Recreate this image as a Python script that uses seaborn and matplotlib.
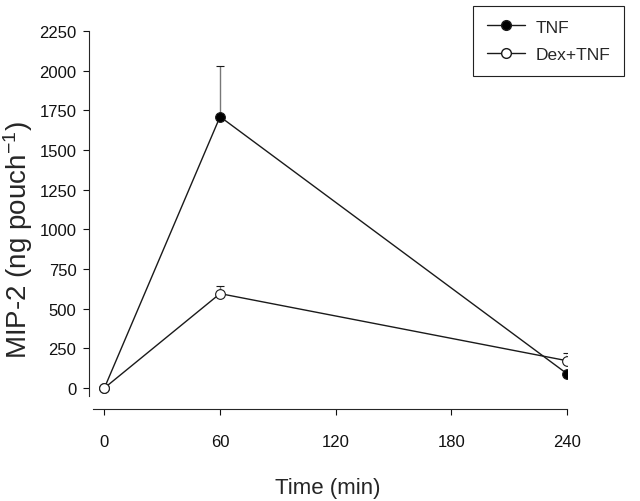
import pandas as pd
import numpy as np
import matplotlib
matplotlib.use("Agg")
import matplotlib.pyplot as plt
import seaborn as sns
from matplotlib.lines import Line2D

time_min = [0, 60, 240]
tnf = [0, 1710, 90]
tnf_err = [0, 320, 0]
dex_tnf = [0, 595, 172]
dex_tnf_err = [0, 50, 50]

x_ticks = [0, 60, 120, 180, 240]
y_ticks = [0, 250, 500, 750, 1000, 1250, 1500, 1750, 2000, 2250]

df = pd.DataFrame({
    "Time": time_min * 2,
    "MIP2": tnf + dex_tnf,
    "err": tnf_err + dex_tnf_err,
    "Group": ["TNF"] * 3 + ["Dex+TNF"] * 3,
})

sns.set_style("ticks")
plt.rcParams["font.family"] = ["Liberation Sans", "DejaVu Sans"]
plt.rcParams["mathtext.default"] = "regular"

fig = plt.figure(figsize=(6.4, 5.02), dpi=100)
ax = fig.add_axes([0.139, 0.1833, 0.747, 0.753])

# error bars, upper side only
for grp in ["TNF", "Dex+TNF"]:
    d = df[df["Group"] == grp]
    ax.errorbar(d["Time"], d["MIP2"], yerr=[np.zeros(len(d)), d["err"]],
                fmt="none", ecolor="#777777", elinewidth=1, capsize=3,
                capthick=1, zorder=1)

sns.lineplot(data=df, x="Time", y="MIP2", hue="Group", style="Group",
             palette={"TNF": "#1a1a1a", "Dex+TNF": "#1a1a1a"},
             markers={"TNF": "o", "Dex+TNF": "o"}, dashes=False,
             linewidth=1, markersize=7, ax=ax, legend=False, zorder=2)

lines = ax.get_lines()
for ln in lines:
    ln.set_markeredgecolor("#1a1a1a")
    ln.set_markeredgewidth(0.8)
lines[-2].set_markerfacecolor("black")
lines[-1].set_markerfacecolor("white")

ax.set_xlim(-8, 240)
ax.set_ylim(-132, 2250)
ax.set_xticks(x_ticks)
ax.set_yticks(y_ticks)
ax.tick_params(direction="out", length=4, width=0.8, labelsize=12, colors="#111111")
ax.tick_params(axis="x", pad=14)
ax.tick_params(axis="y", pad=5)

for s in ["top", "right"]:
    ax.spines[s].set_visible(False)
ax.spines["left"].set_bounds(-50, 2250)
ax.spines["bottom"].set_bounds(-6, 240)
ax.spines["left"].set_linewidth(0.8)
ax.spines["bottom"].set_linewidth(0.8)

ax.set_xlabel("Time (min)", fontsize=16)
ax.set_ylabel("MIP-2 (ng pouch$^{-1}$)", fontsize=20)
ax.xaxis.set_label_coords(0.5, -0.18)
ax.yaxis.set_label_coords(-0.112, 0.45)

handles = [
    Line2D([0], [0], color="#1a1a1a", lw=1, marker="o", markersize=7,
           markerfacecolor="black", markeredgecolor="#1a1a1a"),
    Line2D([0], [0], color="#1a1a1a", lw=1, marker="o", markersize=7,
           markerfacecolor="white", markeredgecolor="#1a1a1a"),
]
leg = fig.legend(handles, ["TNF", "Dex+TNF"], loc="upper right",
                 bbox_to_anchor=(0.975, 0.987), borderaxespad=0,
                 fontsize=12.5, frameon=True, fancybox=False,
                 edgecolor="#222222", framealpha=1, handlelength=2.2,
                 handletextpad=0.6, borderpad=0.8, labelspacing=0.7)
leg.get_frame().set_linewidth(0.8)

fig.savefig("out.png", dpi=100)
